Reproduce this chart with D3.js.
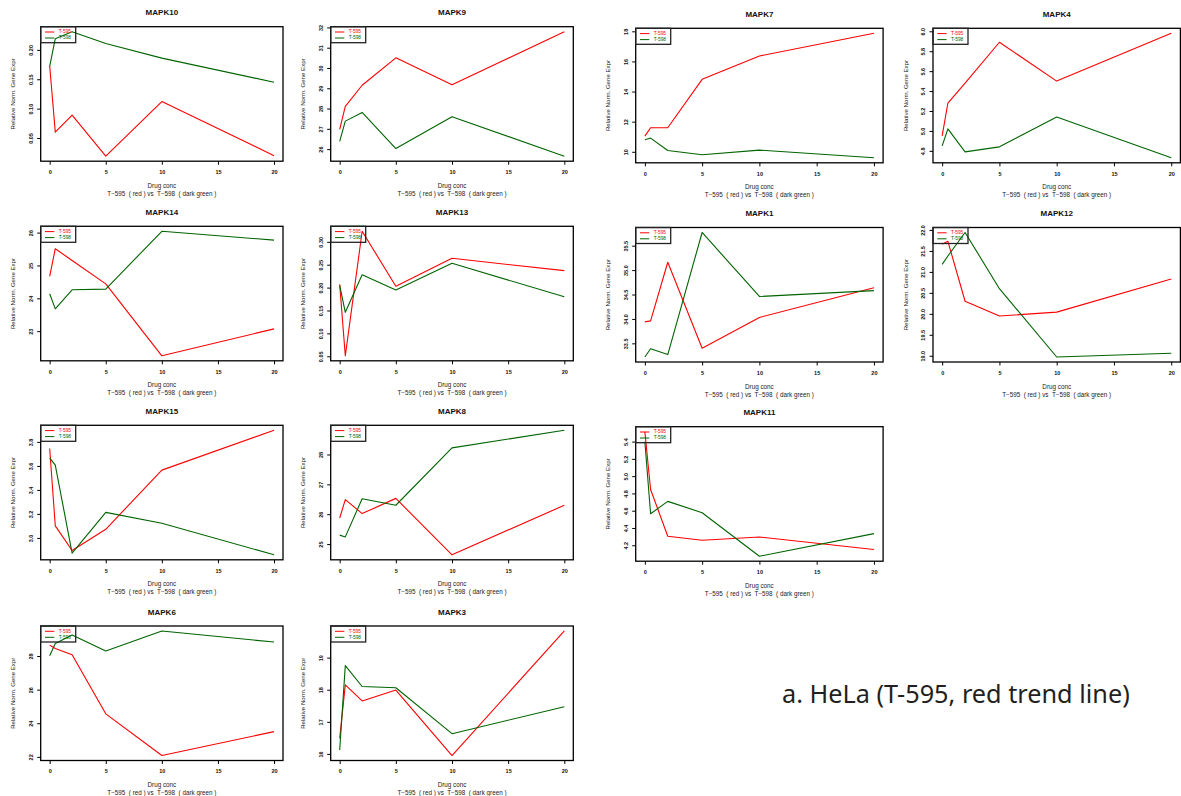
<!DOCTYPE html>
<html>
<head>
<meta charset="utf-8">
<script src="https://cdn.jsdelivr.net/npm/d3@7"></script>
<style>
  body { margin: 0; background: #fff; }
  svg { display: block; font-family: "Liberation Sans", Arial, sans-serif; }
</style>
</head>
<body>
<svg id="fig" width="1181" height="796"></svg>
<script>
// ---- data ----------------------------------------------------------------
const doses = [0, 0.5, 2, 5, 10, 20];
const genes = ["MAPK10", "MAPK9", "MAPK7", "MAPK4",
               "MAPK14", "MAPK13", "MAPK1", "MAPK12",
               "MAPK15", "MAPK8", "MAPK11",
               "MAPK6", "MAPK3"];

// T-595 (red) relative normalised expression at each dose
const t595 = [
  [0.173, 0.060, 0.089, 0.019, 0.112, 0.020],
  [26.97, 28.11, 29.15, 30.50, 29.17, 31.79],
  [11.04, 11.60, 11.60, 14.81, 16.36, 17.87],
  [4.95, 5.28, 5.48, 5.89, 5.50, 5.98],
  [24.67, 25.51, 25.15, 24.44, 22.25, 23.07],
  [0.207, 0.051, 0.323, 0.203, 0.264, 0.237],
  [33.94, 33.96, 35.16, 33.40, 34.03, 34.64],
  [21.66, 21.73, 20.30, 19.95, 20.04, 20.83],
  [3.745, 3.100, 2.895, 3.072, 3.565, 3.897],
  [25.87, 26.49, 26.02, 26.53, 24.64, 26.30],
  [5.515, 4.846, 4.304, 4.258, 4.296, 4.150],
  [28.65, 28.45, 28.08, 24.56, 22.08, 23.50],
  [16.49, 18.15, 17.65, 17.99, 15.95, 19.83]
];

// T-598 (dark green)
const t598 = [
  [0.172, 0.219, 0.231, 0.211, 0.186, 0.145],
  [26.38, 27.38, 27.81, 26.03, 27.60, 25.65],
  [10.80, 10.91, 10.09, 9.80, 10.11, 9.60],
  [4.85, 5.02, 4.79, 4.84, 5.14, 4.73],
  [24.14, 23.68, 24.26, 24.28, 26.04, 25.77],
  [0.205, 0.146, 0.228, 0.195, 0.253, 0.180],
  [33.22, 33.39, 33.27, 35.77, 34.46, 34.58],
  [21.18, 21.38, 21.94, 20.60, 18.97, 19.06],
  [3.667, 3.606, 2.873, 3.213, 3.122, 2.859],
  [25.30, 25.24, 26.52, 26.30, 28.22, 28.81],
  [5.400, 4.565, 4.708, 4.577, 4.073, 4.335],
  [28.02, 28.75, 29.25, 28.30, 29.49, 28.83],
  [16.12, 18.75, 18.10, 18.06, 16.63, 17.47]
];

const yTickLabels = [
  ["0.05", "0.10", "0.15", "0.20"],
  ["26", "27", "28", "29", "30", "31", "32"],
  ["10", "12", "14", "16", "18"],
  ["4.8", "5.0", "5.2", "5.4", "5.6", "5.8", "6.0"],
  ["23", "24", "25", "26"],
  ["0.05", "0.10", "0.15", "0.20", "0.25", "0.30"],
  ["33.5", "34.0", "34.5", "35.0", "35.5"],
  ["19.0", "19.5", "20.0", "20.5", "21.0", "21.5", "22.0"],
  ["3.0", "3.2", "3.4", "3.6", "3.8"],
  ["25", "26", "27", "28"],
  ["4.2", "4.4", "4.6", "4.8", "5.0", "5.2", "5.4"],
  ["22", "24", "26", "28"],
  ["16", "17", "18", "19"]
];
const xTickValues = [0, 5, 10, 15, 20];
const seriesNames = ["T-595", "T-598"];
const seriesColors = ["#ff0000", "#006400"];
const xTitle = "Drug conc";
const xSubtitle = "T\u2212595  ( red ) vs  T\u2212598  ( dark green )";
const yTitle = "Relative Norm. Gene Expr";
const caption = "a. HeLa (T-595, red trend line)";

// ---- layout --------------------------------------------------------------
const rowSizes = [4, 4, 3, 2];
const colLeft = [40.7, 330.7, 635.7, 933];
const colWidth = [242.3, 242.6, 247.4, 247.4];
const rowTopLeft = [26.7, 226.3, 425.3, 626];
const rowTopRight = [28.3, 227.5, 426.7];
const boxH = 134.5;

const svg = d3.select("#fig");
svg.append("rect").attr("width", 1181).attr("height", 796).attr("fill", "#fff");

let idx = 0;
rowSizes.forEach((n, row) => {
  for (let col = 0; col < n; col++) drawPanel(idx++, row, col);
});

function drawPanel(i, row, col) {
  const left = colLeft[col];
  const top = col < 2 ? rowTopLeft[row] : rowTopRight[row];
  const w = colWidth[col], h = boxH;
  const g = svg.append("g").attr("transform", `translate(${left},${top})`);

  const x = d3.scaleLinear().domain([-0.8, 20.8]).range([0, w]);
  const ext = d3.extent(t595[i].concat(t598[i]));
  const pad = (ext[1] - ext[0]) * 0.04;
  const y = d3.scaleLinear().domain([ext[0] - pad, ext[1] + pad]).range([h, 0]);

  // series lines
  const line = d3.line().x(d => x(d[0])).y(d => y(d[1]));
  [t595[i], t598[i]].forEach((vals, s) => {
    g.append("path")
      .datum(doses.map((d, k) => [d, vals[k]]))
      .attr("d", line)
      .attr("fill", "none")
      .attr("stroke", seriesColors[s])
      .attr("stroke-width", 1.1)
      .attr("stroke-linejoin", "round");
  });

  // x axis
  const xa = g.append("g").attr("transform", `translate(0,${h})`)
    .call(d3.axisBottom(x).tickValues(xTickValues).tickSize(3.5).tickPadding(5.4));
  xa.select(".domain").remove();
  xa.attr("font-size", 5.5).attr("font-family", null).attr("font-weight", "bold");
  xa.selectAll("line").attr("stroke", "#000").attr("stroke-width", 1);
  xa.selectAll("text").attr("fill", "#111");

  // y axis, labels parallel to the axis
  const labels = yTickLabels[i];
  const ya = g.append("g")
    .call(d3.axisLeft(y).tickValues(labels.map(Number))
      .tickFormat((d, k) => labels[k]).tickSize(3.5));
  ya.select(".domain").remove();
  ya.attr("font-size", 5.5).attr("font-family", null).attr("font-weight", "bold");
  ya.selectAll("line").attr("stroke", "#000").attr("stroke-width", 1);
  ya.selectAll("text")
    .attr("x", 0).attr("y", -10).attr("dy", "0.35em")
    .attr("transform", "rotate(-90)")
    .attr("text-anchor", "middle")
    .attr("fill", "#111");

  // frame
  g.append("rect").attr("width", w).attr("height", h)
    .attr("fill", "none").attr("stroke", "#000").attr("stroke-width", 1.3);

  // title
  g.append("text").attr("x", w / 2).attr("y", -14)
    .attr("text-anchor", "middle").attr("dominant-baseline", "central")
    .attr("font-size", 8).attr("font-weight", "bold").attr("fill", "#111")
    .text(genes[i]);

  // axis titles
  g.append("text").attr("x", w / 2).attr("y", h + 24)
    .attr("text-anchor", "middle").attr("dominant-baseline", "central")
    .attr("font-size", 6.3).attr("fill", "#222").text(xTitle);
  g.append("text").attr("x", w / 2).attr("y", h + 32)
    .attr("text-anchor", "middle").attr("dominant-baseline", "central")
    .attr("font-size", 6.3).attr("fill", "#222")
    .style("white-space", "pre").text(xSubtitle);
  g.append("text")
    .attr("transform", `translate(-28,${h / 2}) rotate(-90)`)
    .attr("text-anchor", "middle").attr("dominant-baseline", "central")
    .attr("font-size", 6.1).attr("fill", "#222").text(yTitle);

  // legend (transparent background)
  const lg = g.append("g");
  lg.append("rect").attr("width", 35).attr("height", 16)
    .attr("fill", "none").attr("stroke", "#222").attr("stroke-width", 1.3);
  seriesNames.forEach((name, s) => {
    const ly = 5.3 + s * 6;
    lg.append("line").attr("x1", 4.3).attr("x2", 13.6).attr("y1", ly).attr("y2", ly)
      .attr("stroke", seriesColors[s]).attr("stroke-width", 1);
    lg.append("text").attr("x", 18).attr("y", ly)
      .attr("dominant-baseline", "central")
      .attr("font-size", 4.8).attr("fill", seriesColors[s]).text(name);
  });
}

// caption
const cap = svg.append("text").attr("x", 782).attr("y", 693)
  .attr("dominant-baseline", "central")
  .attr("font-family", "'Noto Sans', 'Open Sans', sans-serif")
  .attr("font-size", 24).attr("fill", "#231f20").text(caption);
const len = cap.node().getComputedTextLength();
cap.attr("font-size", 24 * 348 / len);
</script>
</body>
</html>
